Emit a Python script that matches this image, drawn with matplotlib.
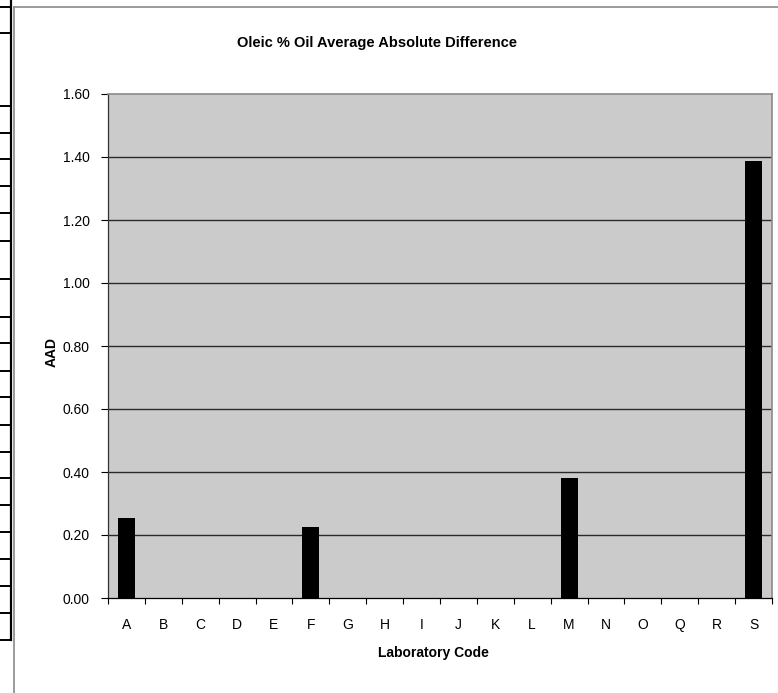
import matplotlib
matplotlib.use("Agg")
import matplotlib.pyplot as plt
from matplotlib.lines import Line2D

plt.rcParams['font.family'] = ['Liberation Sans', 'DejaVu Sans']

labs = ["A", "B", "C", "D", "E", "F", "G", "H", "I", "J", "K", "L", "M", "N", "O", "Q", "R", "S"]
aad = [0.255, 0, 0, 0, 0, 0.226, 0, 0, 0, 0, 0, 0, 0.38, 0, 0, 0, 0, 1.387]
yticks = [0.0, 0.2, 0.4, 0.6, 0.8, 1.0, 1.2, 1.4, 1.6]

W, H = 778, 693
fig = plt.figure(figsize=(W / 100, H / 100), dpi=100)
ax = fig.add_axes([108 / W, 1 - 598 / H, (772 - 108) / W, (598 - 94) / H])
ax.set_facecolor('#CBCBCB')

x = list(range(len(labs)))
ax.bar(x, aad, width=0.46, color='black', zorder=3)
ax.set_xlim(-0.5, len(labs) - 0.5)
ax.set_ylim(0, 1.6)
ax.set_yticks(yticks)
ax.set_yticklabels([f"{v:.2f}" for v in yticks], fontsize=10)
ax.set_xticks(x)
ax.set_xticklabels(labs, fontsize=10)
ax.tick_params(axis='x', length=0, pad=14.5)
ax.set_xticks([i - 0.5 for i in range(len(labs) + 1)], minor=True)
ax.tick_params(axis='x', which='minor', length=4, width=0.8, color='black', direction='out')
ax.tick_params(axis='y', length=5, width=0.8, color='black', direction='out', pad=8)
for v in yticks[1:-1]:
    ax.axhline(v, color='#2a2a2a', linewidth=1.0, zorder=1)
for s in ['top', 'right']:
    ax.spines[s].set_color('#8a8a8a')
    ax.spines[s].set_linewidth(1.2)
ax.spines['left'].set_color('#333333')
ax.spines['bottom'].set_color('black')
ax.spines['left'].set_linewidth(0.9)
ax.spines['bottom'].set_linewidth(0.9)

xl = ax.set_xlabel("Laboratory Code", fontsize=10, fontweight='bold')
yl = ax.set_ylabel("AAD", fontsize=10, fontweight='bold')
ax.xaxis.set_label_coords((433.5 - 108) / 664, (598 - 653) / 504)
ax.yaxis.set_label_coords((52 - 108) / 664, (598 - 352) / 504)
xl.set_va('center')
yl.set_va('center')
fig.text(377 / W, 1 - 43 / H, "Oleic % Oil Average Absolute Difference",
         fontsize=10.5, fontweight='bold', ha='center', va='center')

def px(xp, yp):
    return xp / W, 1 - yp / H

# chart border (gray)
x0, y0 = px(14, 7)
fig.add_artist(Line2D([x0, 1.0], [y0, y0], color='#8a8a8a', linewidth=1.2))
fig.add_artist(Line2D([x0, x0], [y0, 0.0], color='#8a8a8a', linewidth=1.2))
# left table edge
bx, _ = px(11, 0)
_, by = px(0, 640)
fig.add_artist(Line2D([bx, bx], [1.0, by], color='black', linewidth=1.6))
for yy in [7, 33, 106, 133, 159, 186, 213, 241, 279, 317, 343, 371, 397, 425, 452, 478, 505, 532, 559, 586, 613, 640]:
    _, yf = px(0, yy)
    fig.add_artist(Line2D([0, bx], [yf, yf], color='black', linewidth=1.4))

fig.savefig("out.png", dpi=100)
